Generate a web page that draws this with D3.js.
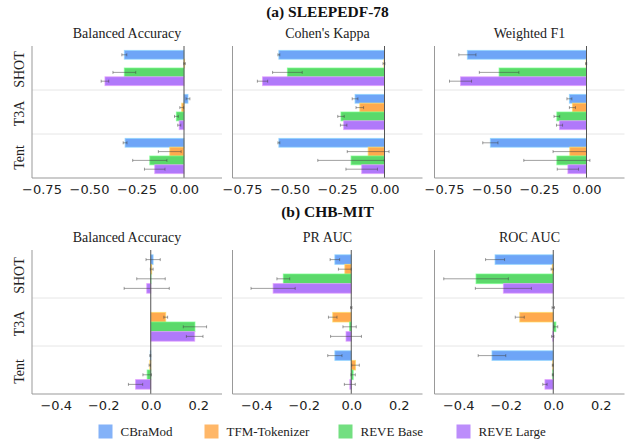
<!DOCTYPE html>
<html>
<head>
<meta charset="utf-8">
<script src="https://cdn.jsdelivr.net/npm/d3@7"></script>
<style>
  body { margin: 0; background: #fff; }
  svg { display: block; }
</style>
</head>
<body>
<svg id="chart" width="627" height="439"></svg>
<script>
const models = ['CBraMod', 'TFM-Tokenizer', 'REVE Base', 'REVE Large'];
const methods = ['SHOT', 'T3A', 'Tent'];
const colors = ['#6ea5f7', '#ffaa4e', '#5bd96b', '#b079fa'];

// (a) SLEEPEDF-78 -- rows are methods, columns are models
const sleepBalAcc    = [[-0.314, 0.003, -0.314, -0.416], [0.021, -0.012, -0.040, -0.025], [-0.310, -0.075, -0.180, -0.154]];
const sleepBalAccErr = [[0.013, 0.004, 0.060, 0.020], [0.010, 0.010, 0.010, 0.008], [0.010, 0.060, 0.090, 0.054]];
const sleepKappa     = [[-0.556, -0.003, -0.511, -0.642], [-0.155, -0.130, -0.229, -0.215], [-0.556, -0.086, -0.176, -0.120]];
const sleepKappaErr  = [[0.005, 0.005, 0.078, 0.027], [0.015, 0.020, 0.017, 0.017], [0.005, 0.110, 0.175, 0.083]];
const sleepF1        = [[-0.627, -0.002, -0.460, -0.663], [-0.090, -0.074, -0.156, -0.142], [-0.506, -0.088, -0.156, -0.098]];
const sleepF1Err     = [[0.045, 0.003, 0.104, 0.058], [0.013, 0.016, 0.015, 0.016], [0.040, 0.088, 0.174, 0.056]];

// (b) CHB-MIT
const chbBalAcc    = [[0.010, 0.004, 0.001, -0.017], [0.000, 0.063, 0.186, 0.185], [-0.002, -0.004, -0.015, -0.064]];
const chbBalAccErr = [[0.030, 0.006, 0.060, 0.095], [0.000, 0.008, 0.049, 0.035], [0.002, 0.003, 0.018, 0.030]];
const chbPrAuc     = [[-0.069, -0.027, -0.286, -0.329], [0.000, -0.078, -0.007, -0.022], [-0.069, 0.018, 0.008, -0.006]];
const chbPrAucErr  = [[0.020, 0.027, 0.027, 0.093], [0.003, 0.018, 0.028, 0.065], [0.030, 0.016, 0.009, 0.023]];
const chbRocAuc    = [[-0.245, -0.004, -0.325, -0.210], [0.000, -0.141, 0.011, -0.002], [-0.258, -0.002, -0.002, -0.035]];
const chbRocAucErr = [[0.040, 0.005, 0.136, 0.118], [0.005, 0.019, 0.008, 0.005], [0.058, 0.002, 0.002, 0.009]];

const topTicks = [-0.75, -0.5, -0.25, 0];
const bottomTicks = [-0.4, -0.2, 0, 0.2];

const rows = [
  {
    title: '(a) SLEEPEDF-78', titleY: 12, top: 46, bottom: 178,
    domain: [-0.8, 0.2], ticks: topTicks, fmt: d3.format('.2f'),
    panels: [
      {name: 'Balanced Accuracy', vals: sleepBalAcc, errs: sleepBalAccErr},
      {name: "Cohen's Kappa", vals: sleepKappa, errs: sleepKappaErr},
      {name: 'Weighted F1', vals: sleepF1, errs: sleepF1Err}
    ]
  },
  {
    title: '(b) CHB-MIT', titleY: 212, top: 250, bottom: 394,
    domain: [-0.5, 0.3], ticks: bottomTicks, fmt: d3.format('.1f'),
    panels: [
      {name: 'Balanced Accuracy', vals: chbBalAcc, errs: chbBalAccErr},
      {name: 'PR AUC', vals: chbPrAuc, errs: chbPrAucErr},
      {name: 'ROC AUC', vals: chbRocAuc, errs: chbRocAucErr}
    ]
  }
];

const svg = d3.select('#chart');
const panelLefts = [32, 232.5, 434.5];
const panelWidth = 190;
const serif = '"Liberation Serif", "Times New Roman", serif';
const sans = '"DejaVu Sans", sans-serif';

rows.forEach(row => {
  svg.append('text')
      .attr('x', panelLefts[1] + panelWidth / 2)
      .attr('y', row.titleY)
      .attr('dy', '0.35em')
      .attr('text-anchor', 'middle')
      .style('font-family', serif)
      .style('font-weight', 'bold')
      .style('font-size', '15.5px')
      .attr('fill', '#111')
      .text(row.title);

  const y = d3.scaleBand()
      .domain(methods)
      .range([row.top, row.bottom]);

  const yInner = d3.scaleBand()
      .domain(d3.range(models.length))
      .range([y.bandwidth() * 0.1, y.bandwidth() * 0.9]);

  row.panels.forEach((p, pi) => {
    const left = panelLefts[pi];
    const x = d3.scaleLinear()
        .domain(row.domain)
        .range([left, left + panelWidth]);

    const g = svg.append('g');

    // subplot title
    g.append('text')
        .attr('x', left + panelWidth / 2)
        .attr('y', row.top - 13)
        .attr('dy', '0.35em')
        .attr('text-anchor', 'middle')
        .style('font-family', serif)
        .style('font-size', '14px')
        .attr('fill', '#222')
        .text(p.name);

    // group separators
    g.selectAll('.sep')
      .data(methods.slice(1))
      .join('line')
        .attr('x1', left)
        .attr('x2', left + panelWidth)
        .attr('y1', d => y(d))
        .attr('y2', d => y(d))
        .attr('stroke', '#e6e6e6')
        .attr('stroke-width', 1);

    const flat = [];
    methods.forEach((m, mi) => {
      models.forEach((mod, k) => {
        flat.push({method: m, k, v: p.vals[mi][k], e: p.errs[mi][k]});
      });
    });

    g.selectAll('.bar')
      .data(flat)
      .join('rect')
        .attr('x', d => Math.min(x(0), x(d.v)))
        .attr('y', d => y(d.method) + yInner(d.k))
        .attr('width', d => Math.abs(x(d.v) - x(0)))
        .attr('height', yInner.bandwidth())
        .attr('fill', d => colors[d.k])
        .attr('stroke', d => d3.color(colors[d.k]).brighter(0.7))
        .attr('stroke-opacity', 0.7)
        .attr('stroke-width', 1);

    // zero line
    g.append('line')
        .attr('x1', x(0)).attr('x2', x(0))
        .attr('y1', row.top).attr('y2', row.bottom)
        .attr('stroke', '#555')
        .attr('stroke-width', 1);

    // error bars
    const eb = g.selectAll('.err')
      .data(flat.filter(d => d.e > 0))
      .join('g')
        .attr('transform', d => `translate(0,${y(d.method) + yInner(d.k) + yInner.bandwidth() / 2})`)
        .attr('stroke', '#444')
        .attr('stroke-opacity', 0.5)
        .attr('stroke-width', 1);
    eb.append('line')
        .attr('x1', d => x(d.v - d.e))
        .attr('x2', d => x(d.v + d.e));
    eb.selectAll('.cap')
      .data(d => [d.v - d.e, d.v + d.e])
      .join('line')
        .attr('x1', d => x(d)).attr('x2', d => x(d))
        .attr('y1', -1.5).attr('y2', 1.5);

    // spines
    g.append('line')
        .attr('x1', left).attr('x2', left)
        .attr('y1', row.top).attr('y2', row.bottom)
        .attr('stroke', '#999');
    g.append('line')
        .attr('x1', left).attr('x2', left + panelWidth)
        .attr('y1', row.bottom).attr('y2', row.bottom)
        .attr('stroke', '#999');

    // x axis
    const ax = g.append('g')
        .attr('transform', `translate(0,${row.bottom})`)
        .call(d3.axisBottom(x).tickValues(row.ticks).tickFormat(row.fmt).tickSize(0).tickPadding(7));
    ax.select('.domain').remove();
    ax.selectAll('text')
        .style('font-family', sans)
        .style('font-size', '13px')
        .attr('fill', '#222');

    // y labels on first panel only
    if (pi === 0) {
      g.selectAll('.ylab')
        .data(methods)
        .join('text')
          .attr('transform', d => `translate(19,${y(d) + y.bandwidth() / 2 + 1.5}) rotate(-90)`)
          .attr('dy', '0.35em')
          .attr('text-anchor', 'middle')
          .style('font-family', serif)
          .style('font-size', '14px')
          .attr('fill', '#222')
          .text(d => d);
    }
  });
});

// legend
const legendX = [98.5, 204.5, 338.5, 456.5];
const legend = svg.append('g')
    .selectAll('g')
    .data(models)
    .join('g')
      .attr('transform', (d, i) => `translate(${legendX[i]},${431.5})`);
legend.append('rect')
    .attr('x', 0).attr('y', -7)
    .attr('width', 14).attr('height', 14)
    .attr('fill', (d, i) => colors[i])
    .attr('opacity', 0.85);
legend.append('text')
    .attr('x', 22)
    .attr('dy', '0.35em')
    .style('font-family', serif)
    .style('font-size', '13px')
    .attr('fill', '#222')
    .text(d => d);
</script>
</body>
</html>
